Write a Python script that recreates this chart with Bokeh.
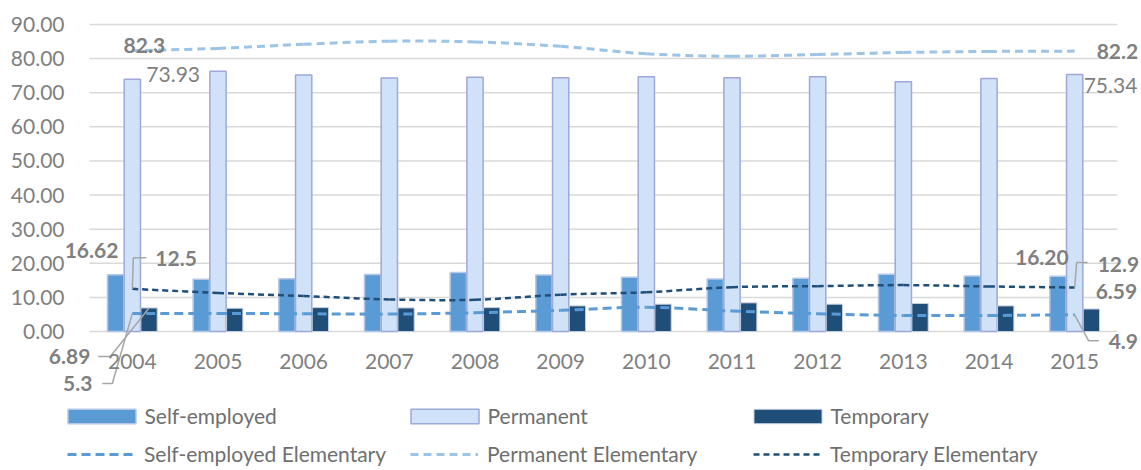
from bokeh.plotting import figure
from bokeh.models import (ColumnDataSource, Legend, LegendItem, Label, FixedTicker,
                          NumeralTickFormatter, Range1d)
from bokeh.transform import dodge
from bokeh.embed import file_html
from bokeh.resources import INLINE

# ---------------- data ----------------
years = ["2004", "2005", "2006", "2007", "2008", "2009", "2010", "2011", "2012", "2013", "2014", "2015"]
self_employed = [16.62, 15.3, 15.5, 16.7, 17.3, 16.6, 15.9, 15.4, 15.6, 16.8, 16.3, 16.20]
permanent = [73.93, 76.3, 75.2, 74.3, 74.5, 74.4, 74.7, 74.4, 74.7, 73.2, 74.2, 75.34]
temporary = [6.89, 6.8, 7.0, 6.9, 7.0, 7.5, 8.0, 8.4, 8.0, 8.2, 7.5, 6.59]
self_employed_elem = [5.3, 5.3, 5.2, 5.1, 5.5, 6.2, 7.1, 6.0, 5.2, 4.7, 4.7, 4.9]
permanent_elem = [82.3, 83.0, 84.2, 85.1, 84.9, 83.6, 81.4, 80.7, 81.2, 81.8, 82.1, 82.2]
temporary_elem = [12.5, 11.3, 10.4, 9.4, 9.3, 10.8, 11.5, 13.0, 13.3, 13.6, 13.2, 12.9]
y_ticks = [0, 10, 20, 30, 40, 50, 60, 70, 80, 90]

# ---------------- styles / geometry ----------------
FONT = "Lato"
GRAY = "#7f7f7f"
C_SE = "#5b9bd5"
C_PERM = "#cfe2f8"
C_TEMP = "#1f4e79"
C_PE = "#9dc3e6"

W, H = 1141, 470                 # canvas size (whole canvas is the frame)
N = len(years)
PLOT_L, PLOT_R = 89, 1117        # plot-area edges inside the canvas (px)
PLOT_T, PLOT_B = 24, 331
PXX = (PLOT_R - PLOT_L) / N      # px per category
PXY = (PLOT_B - PLOT_T) / 90.0   # px per unit
X0 = PLOT_L + PXX / 2            # px of first category centre

x_start = (0 - X0) / PXX
x_end = (W - X0) / PXX
y_end = (PLOT_B - 0) / PXY
y_start = (PLOT_B - H) / PXY

idx = list(range(N))
p = figure(frame_width=W, frame_height=H, output_backend="svg", toolbar_location=None,
           x_range=Range1d(x_start, x_end), y_range=Range1d(y_start, y_end),
           min_border=0)
p.outline_line_color = None
p.background_fill_color = "white"
p.border_fill_color = "white"

# axes (inside the frame at the plot-area edges)
p.yaxis.ticker = FixedTicker(ticks=y_ticks)
p.yaxis.formatter = NumeralTickFormatter(format="0.00")
p.yaxis.fixed_location = -0.5
p.xaxis.ticker = FixedTicker(ticks=idx)
p.xaxis.major_label_overrides = {i: y for i, y in enumerate(years)}
p.xaxis.fixed_location = 0
for ax in (p.xaxis, p.yaxis):
    ax.axis_line_color = None
    ax.major_tick_line_color = None
    ax.minor_tick_line_color = None
    ax.major_tick_out = 0
    ax.major_tick_in = 0
    ax.minor_tick_out = 0
    ax.major_label_text_font = FONT
    ax.major_label_text_font_size = "21px"
    ax.major_label_text_color = GRAY
p.yaxis.major_label_standoff = 25
p.xaxis.major_label_standoff = 22
p.xgrid.visible = False
p.ygrid.visible = False

# horizontal gridlines limited to the plot area
p.segment(x0=[-0.5] * len(y_ticks), x1=[N - 0.5] * len(y_ticks), y0=y_ticks, y1=y_ticks,
          line_color="#d9d9d9", line_width=1.5)

# bars
BW = 0.19
OFF = 0.195
src = ColumnDataSource(dict(x=idx, se=self_employed, perm=permanent, temp=temporary))
r_se = p.vbar(x=dodge("x", -OFF), top="se", width=BW, bottom=0, source=src, fill_color=C_SE,
              line_color="#b4c7e7", line_width=1.5)
r_perm = p.vbar(x=dodge("x", 0), top="perm", width=BW, bottom=0, source=src, fill_color=C_PERM,
                line_color="#9ea8d9", line_width=1.5)
r_temp = p.vbar(x=dodge("x", OFF), top="temp", width=BW, bottom=0, source=src, fill_color=C_TEMP,
                line_color="#c5cede", line_width=1)


# smoothed lines (Excel-like Bezier through the data points)
def bez(vals):
    n = len(vals)
    d = dict(x0=[], y0=[], x1=[], y1=[], cx0=[], cy0=[], cx1=[], cy1=[])
    for i in range(n - 1):
        a, b = max(i - 1, 0), min(i + 2, n - 1)
        d["x0"].append(i); d["y0"].append(vals[i])
        d["x1"].append(i + 1); d["y1"].append(vals[i + 1])
        d["cx0"].append(i + (i + 1 - a) / 6); d["cy0"].append(vals[i] + (vals[i + 1] - vals[a]) / 6)
        d["cx1"].append(i + 1 - (b - i) / 6); d["cy1"].append(vals[i + 1] - (vals[b] - vals[i]) / 6)
    return ColumnDataSource(d)


def smooth_line(vals, color, width, dash):
    return p.bezier(x0="x0", y0="y0", x1="x1", y1="y1", cx0="cx0", cy0="cy0", cx1="cx1", cy1="cy1",
                    source=bez(vals), line_color=color, line_width=width, line_dash=dash)


r_se_e = smooth_line(self_employed_elem, C_SE, 3, "9 5")
r_pe_e = smooth_line(permanent_elem, C_PE, 3, "8 5")
r_te_e = smooth_line(temporary_elem, C_TEMP, 2.5, "6 4")

# ---------------- data labels ----------------
last = N - 1
labels = [
    # (x index, value, text, bold, align, x_off, y_off)
    (0, permanent_elem[0], f"{permanent_elem[0]:.1f}", True, "center", 12, 5),
    (0, permanent[0], f"{permanent[0]:.2f}", False, "left", 14, 5),
    (0, self_employed[0], f"{self_employed[0]:.2f}", True, "right", -14, 24),
    (0, temporary_elem[0], f"{temporary_elem[0]:.1f}", True, "left", 23, 30),
    (0, temporary[0], f"{temporary[0]:.2f}", True, "right", -42, -49),
    (0, self_employed_elem[0], f"{self_employed_elem[0]:.1f}", True, "right", -40, -70),
    (last, permanent_elem[last], f"{permanent_elem[last]:.1f}", True, "left", 22, 0),
    (last, permanent[last], f"{permanent[last]:.2f}", False, "left", 9, -11),
    (last, self_employed[last], f"{self_employed[last]:.2f}", True, "right", -6, 19),
    (last, temporary_elem[last], f"{temporary_elem[last]:.1f}", True, "left", 23, 23),
    (last, temporary[last], f"{temporary[last]:.2f}", True, "left", 21, 18),
    (last, self_employed_elem[last], f"{self_employed_elem[last]:.1f}", True, "left", 34, -27),
]
for xi, v, t, bold, align, xo, yo in labels:
    p.add_layout(Label(x=xi, y=v, text=t, x_offset=xo, y_offset=yo, text_align=align,
                       text_baseline="middle", text_font=FONT, text_font_size="21px",
                       text_font_style="bold" if bold else "normal", text_color=GRAY))

# leader lines (screen-px offsets from the data point converted to data units)
leaders = [
    (0, temporary_elem[0], [(0, 0), (1, 31), (14, 31)]),
    (0, temporary[0], [(OFF * PXX, 0), (-22, -48.5), (-34, -48.5)]),
    (0, self_employed_elem[0], [(0, 0), (-20, -70), (-30, -70)]),
    (last, temporary_elem[last], [(0, 0), (2, 25), (13, 25)]),
    (last, self_employed_elem[last], [(0, 0), (14, -26), (24, -26)]),
]
xs, ys = [], []
for xi, v, pts in leaders:
    xs.append([xi + dx / PXX for dx, dy in pts])
    ys.append([v + dy / PXY for dx, dy in pts])
p.multi_line(xs=xs, ys=ys, line_color="#a6a6a6", line_width=1.5)

# ---------------- legends ----------------
leg_common = dict(orientation="horizontal", padding=0, margin=0, border_line_color=None,
                  background_fill_alpha=0, label_text_font=FONT, label_text_font_size="21px",
                  label_text_color="#6f6f6f", spacing=7)
leg1 = Legend(items=[LegendItem(label="Self-employed", renderers=[r_se]),
                     LegendItem(label="Permanent", renderers=[r_perm]),
                     LegendItem(label="Temporary", renderers=[r_temp])],
              location=(58.5, 42), glyph_width=85, glyph_height=18, label_standoff=1,
              label_width=250, label_height=18, **leg_common)
leg2 = Legend(items=[LegendItem(label="Self-employed Elementary", renderers=[r_se_e]),
                     LegendItem(label="Permanent Elementary", renderers=[r_pe_e]),
                     LegendItem(label="Temporary Elementary", renderers=[r_te_e])],
              location=(67, 4), glyph_width=68, glyph_height=18, label_standoff=9,
              label_width=259, label_height=18, **leg_common)
p.add_layout(leg1, "center")
p.add_layout(leg2, "center")

open("out.html", "w").write(file_html(p, INLINE))
